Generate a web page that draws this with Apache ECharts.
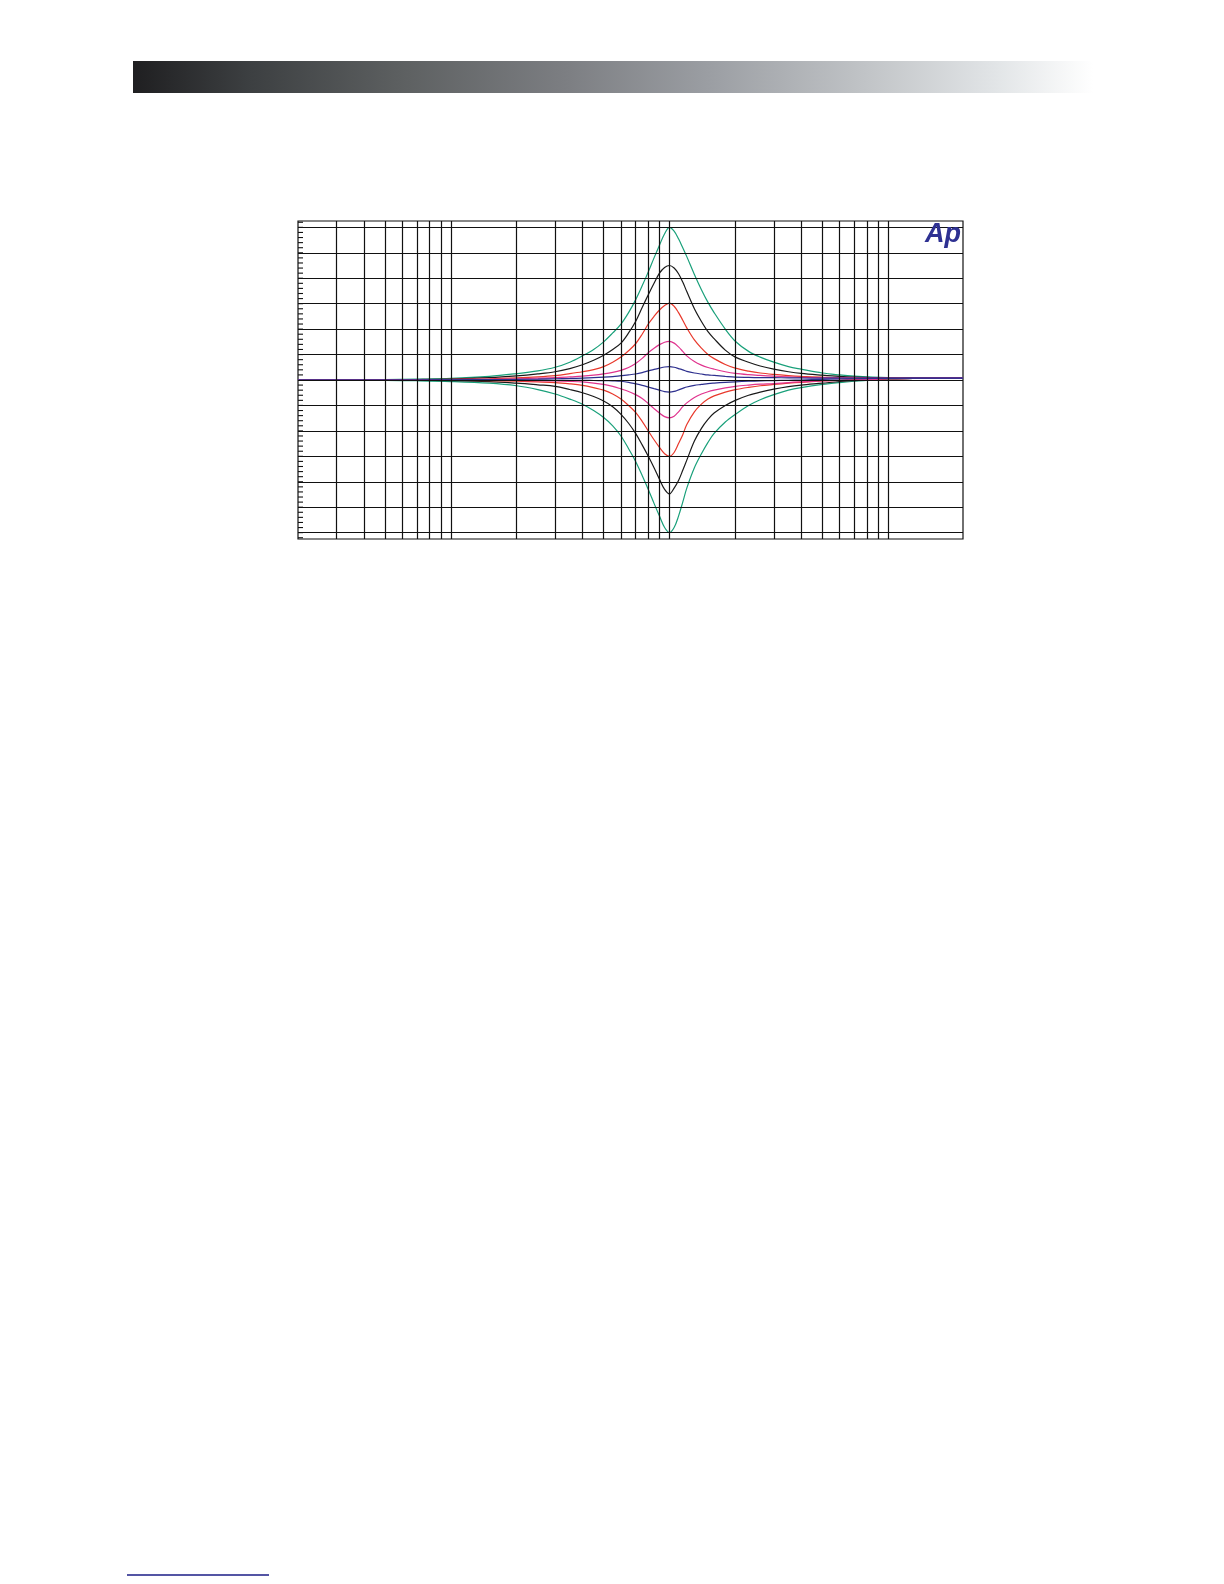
<!DOCTYPE html>
<html>
<head>
<meta charset="utf-8">
<script src="https://cdn.jsdelivr.net/npm/echarts@6/dist/echarts.min.js"></script>
<style>
html,body{margin:0;padding:0;background:#ffffff;}
#c{width:1224px;height:1584px;}
</style>
</head>
<body>
<div id="c"></div>
<script>
// ---------- data ----------
const freqHz = [20, 30, 50, 70, 100, 150, 200, 250, 300, 350, 400, 450, 500, 550, 600, 650, 700, 750, 800, 850, 900, 950, 1000, 1050, 1100, 1150, 1200, 1300, 1400, 1500, 1600, 1800, 2000, 2300, 2600, 3000, 3500, 4000, 5000, 6000, 7000, 8500, 10000, 13000, 16000, 22000];

const greenBoost = [0.02, 0.02, 0.04, 0.07, 0.12, 0.28, 0.5, 0.72, 1.0, 1.4, 1.9, 2.4, 3.0, 3.7, 4.4, 5.3, 6.3, 7.4, 8.5, 9.6, 10.6, 11.5, 12.0, 11.7, 11.1, 10.4, 9.7, 8.3, 7.1, 6.1, 5.3, 4.0, 3.05, 2.25, 1.8, 1.4, 1.05, 0.85, 0.55, 0.4, 0.3, 0.22, 0.18, 0.16, 0.16, 0.16];
const greenCut = [0, -0.01, -0.03, -0.06, -0.12, -0.25, -0.45, -0.75, -1.1, -1.5, -1.9, -2.4, -2.95, -3.6, -4.4, -5.4, -6.4, -7.5, -8.6, -9.7, -10.7, -11.6, -12.0, -11.6, -10.7, -9.6, -8.5, -6.9, -5.8, -4.9, -4.2, -3.3, -2.7, -2.0, -1.55, -1.15, -0.8, -0.6, -0.35, -0.2, -0.1, 0.0, 0.08, 0.12, 0.14, 0.15];

const blackBoost = [0.01, 0.01, 0.02, 0.04, 0.08, 0.18, 0.32, 0.48, 0.65, 0.9, 1.2, 1.55, 1.95, 2.4, 2.9, 3.7, 4.6, 5.7, 6.7, 7.6, 8.4, 8.85, 9.0, 8.8, 8.35, 7.7, 6.95, 5.6, 4.6, 3.8, 3.25, 2.35, 1.8, 1.4, 1.1, 0.85, 0.65, 0.52, 0.38, 0.28, 0.22, 0.18, 0.16, 0.15, 0.15, 0.15];
const blackCut = [0, 0, -0.01, -0.03, -0.05, -0.12, -0.25, -0.38, -0.5, -0.75, -1.0, -1.3, -1.65, -2.1, -2.7, -3.4, -4.2, -5.1, -6.0, -6.9, -7.8, -8.6, -8.95, -8.5, -7.9, -7.1, -6.3, -4.8, -3.8, -3.1, -2.6, -2.0, -1.6, -1.2, -0.95, -0.72, -0.52, -0.4, -0.25, -0.12, -0.05, 0.02, 0.08, 0.12, 0.14, 0.14];

const redBoost = [0.0, 0.0, 0.01, 0.02, 0.05, 0.1, 0.17, 0.25, 0.35, 0.5, 0.65, 0.82, 1.05, 1.4, 1.8, 2.3, 2.85, 3.6, 4.4, 5.0, 5.5, 5.85, 6.05, 5.8, 5.3, 4.7, 4.1, 3.15, 2.5, 2.0, 1.68, 1.22, 0.93, 0.7, 0.55, 0.44, 0.35, 0.29, 0.22, 0.18, 0.16, 0.15, 0.15, 0.15, 0.15, 0.15];
const redCut = [0, 0, 0, -0.01, -0.02, -0.05, -0.1, -0.15, -0.2, -0.3, -0.42, -0.6, -0.8, -1.1, -1.5, -2.0, -2.55, -3.25, -4.0, -4.7, -5.3, -5.8, -6.0, -5.7, -5.0, -4.3, -3.5, -2.5, -1.9, -1.5, -1.25, -0.95, -0.76, -0.58, -0.45, -0.35, -0.25, -0.18, -0.08, -0.02, 0.03, 0.07, 0.1, 0.12, 0.14, 0.14];

const magentaBoost = [0, 0, 0, 0.01, 0.03, 0.06, 0.1, 0.14, 0.18, 0.24, 0.3, 0.38, 0.48, 0.6, 0.76, 0.98, 1.3, 1.7, 2.15, 2.5, 2.78, 2.97, 3.03, 2.9, 2.6, 2.25, 1.9, 1.45, 1.17, 0.98, 0.85, 0.65, 0.52, 0.42, 0.36, 0.3, 0.25, 0.21, 0.19, 0.17, 0.16, 0.15, 0.15, 0.15, 0.15, 0.15];
const magentaCut = [0, 0, 0, 0, -0.01, -0.02, -0.04, -0.06, -0.08, -0.11, -0.15, -0.24, -0.35, -0.5, -0.7, -0.9, -1.15, -1.45, -1.85, -2.25, -2.6, -2.88, -2.97, -2.85, -2.5, -2.1, -1.8, -1.38, -1.1, -0.92, -0.8, -0.62, -0.5, -0.4, -0.33, -0.28, -0.2, -0.15, -0.08, -0.03, 0.0, 0.05, 0.1, 0.12, 0.14, 0.14];

const blueBoost = [0, 0, 0, 0, 0.02, 0.03, 0.05, 0.07, 0.1, 0.12, 0.15, 0.18, 0.22, 0.27, 0.34, 0.4, 0.47, 0.58, 0.72, 0.83, 0.93, 1.02, 1.05, 1.0, 0.9, 0.8, 0.68, 0.55, 0.47, 0.4, 0.36, 0.28, 0.22, 0.2, 0.19, 0.18, 0.17, 0.16, 0.15, 0.15, 0.15, 0.15, 0.15, 0.15, 0.15, 0.15];
const blueCut = [0, 0, 0, 0, 0, 0, -0.01, -0.01, -0.02, -0.03, -0.03, -0.04, -0.05, -0.07, -0.1, -0.18, -0.3, -0.42, -0.55, -0.68, -0.8, -0.92, -0.95, -0.9, -0.78, -0.66, -0.55, -0.42, -0.35, -0.28, -0.24, -0.18, -0.14, -0.1, -0.07, -0.05, -0.02, 0.0, 0.05, 0.08, 0.1, 0.12, 0.13, 0.14, 0.14, 0.14];

// axis structure
const xMinHz = 20, xMaxHz = 22000;
const yMinDb = -12.5, yMaxDb = 12.5;
const xGridHz = [30, 40, 50, 60, 70, 80, 90, 100, 200, 300, 400, 500, 600, 700, 800, 900, 1000, 2000, 3000, 4000, 5000, 6000, 7000, 8000, 9000, 10000];
const yGridDb = [-12, -10, -8, -6, -4, -2, 0, 2, 4, 6, 8, 10, 12];
const yMinorTickDb = [];
for (let k = -31; k <= 31; k++) yMinorTickDb.push(Math.round(k * 0.4 * 10) / 10);

// ---------- chart ----------
const chart = echarts.init(document.getElementById('c'), null, {renderer: 'canvas'});

const curveDefs = [
  {name: 'green +', data: greenBoost, color: '#19a07a'},
  {name: 'green -', data: greenCut, color: '#19a07a'},
  {name: 'black +', data: blackBoost, color: '#1a1a1a'},
  {name: 'black -', data: blackCut, color: '#1a1a1a'},
  {name: 'red +', data: redBoost, color: '#e8392c'},
  {name: 'red -', data: redCut, color: '#e8392c'},
  {name: 'magenta +', data: magentaBoost, color: '#e0338e'},
  {name: 'magenta -', data: magentaCut, color: '#e0338e'},
  {name: 'blue +', data: blueBoost, color: '#2d2f8e'},
  {name: 'blue -', data: blueCut, color: '#2d2f8e'}
];

const gridColor = '#111111';

const series = [];
// grid lines drawn through the axes' scales
series.push({
  type: 'line',
  name: 'grid',
  data: [[xMinHz, 0]],
  showSymbol: false,
  silent: true,
  lineStyle: {opacity: 0},
  z: 1,
  markLine: {
    silent: true,
    animation: false,
    symbol: ['none', 'none'],
    label: {show: false},
    emphasis: {disabled: true},
    lineStyle: {color: gridColor, width: 1.2, type: 'solid'},
    data: xGridHz.map(f => ({xAxis: f})).concat(yGridDb.map(v => ({yAxis: v})))
  }
});
// minor ticks on the left edge
series.push({
  type: 'custom',
  name: 'ticks',
  silent: true,
  z: 2,
  clip: false,
  data: yMinorTickDb.map(v => [xMinHz, v]),
  encode: {x: 0, y: 1},
  renderItem: function (params, api) {
    const p = api.coord([api.value(0), api.value(1)]);
    return {
      type: 'line',
      shape: {x1: p[0], y1: p[1], x2: p[0] + 5, y2: p[1]},
      style: {stroke: gridColor, lineWidth: 1.1}
    };
  }
});
curveDefs.forEach(c => {
  series.push({
    type: 'line',
    name: c.name,
    data: freqHz.map((f, i) => [f, c.data[i]]),
    showSymbol: false,
    symbol: 'none',
    smooth: 0.35,
    z: 3,
    lineStyle: {color: c.color, width: 1.2},
    itemStyle: {color: c.color}
  });
});

chart.setOption({
  animation: false,
  backgroundColor: '#ffffff',
  grid: {
    left: 298, top: 221, width: 665, height: 318,
    show: true, borderColor: gridColor, borderWidth: 1.2, backgroundColor: 'transparent'
  },
  xAxis: {
    type: 'log', logBase: 10, min: xMinHz, max: xMaxHz,
    axisLine: {show: false}, axisTick: {show: false}, axisLabel: {show: false},
    splitLine: {show: false}, minorSplitLine: {show: false}
  },
  yAxis: {
    type: 'value', min: yMinDb, max: yMaxDb,
    axisLine: {show: false}, axisTick: {show: false}, axisLabel: {show: false},
    splitLine: {show: false}
  },
  tooltip: {show: false},
  series: series,
  graphic: [
    {
      type: 'rect',
      shape: {x: 133, y: 61, width: 960, height: 32},
      style: {
        fill: {
          type: 'linear', x: 0, y: 0, x2: 1, y2: 0,
          colorStops: [
            {offset: 0, color: '#1f1f21'},
            {offset: 0.12, color: '#3c3f41'},
            {offset: 0.28, color: '#5d6061'},
            {offset: 0.45, color: '#7c7e82'},
            {offset: 0.6, color: '#9b9ea3'},
            {offset: 0.76, color: '#c0c3c6'},
            {offset: 0.9, color: '#e2e5e7'},
            {offset: 1, color: '#ffffff'}
          ]
        }
      },
      silent: true
    },
    {
      type: 'line',
      shape: {x1: 127, y1: 1575, x2: 269, y2: 1575},
      style: {stroke: '#1b1c86', lineWidth: 1.4},
      silent: true
    },
    {
      type: 'text',
      style: {
        x: 925, y: 221,
        text: 'Ap',
        font: 'italic bold 27px "Liberation Sans", Arial, sans-serif',
        fill: '#2e3192',
        textVerticalAlign: 'top'
      },
      silent: true,
      z: 10
    }
  ]
});
</script>
</body>
</html>
